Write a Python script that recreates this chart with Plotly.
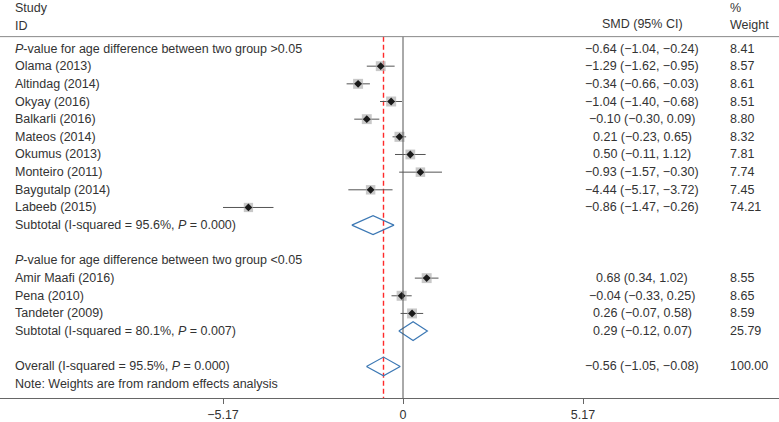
import plotly.graph_objects as go

# ---------------- data ----------------
group1_label = "<i>P</i>-value for age difference between two group >0.05"
group2_label = "<i>P</i>-value for age difference between two group <0.05"

g1_studies = ["Olama (2013)", "Altindag (2014)", "Okyay (2016)", "Balkarli (2016)", "Mateos (2014)",
              "Okumus (2013)", "Monteiro (2011)", "Baygutalp (2014)", "Labeeb (2015)"]
g1_est = [-0.64, -1.29, -0.34, -1.04, -0.10, 0.21, 0.50, -0.93, -4.44]
g1_lo = [-1.04, -1.62, -0.66, -1.40, -0.30, -0.23, -0.11, -1.57, -5.17]
g1_hi = [-0.24, -0.95, -0.03, -0.68, 0.09, 0.65, 1.12, -0.30, -3.72]
g1_w = [8.41, 8.57, 8.61, 8.51, 8.80, 8.32, 7.81, 7.74, 7.45]
g1_sub = (-0.86, -1.47, -0.26)
g1_sub_w = 74.21
g1_sub_label = "Subtotal (I-squared = 95.6%, <i>P</i> = 0.000)"

g2_studies = ["Amir Maafi (2016)", "Pena (2010)", "Tandeter (2009)"]
g2_est = [0.68, -0.04, 0.26]
g2_lo = [0.34, -0.33, -0.07]
g2_hi = [1.02, 0.25, 0.58]
g2_w = [8.55, 8.65, 8.59]
g2_sub = (0.29, -0.12, 0.70)          # diamond as drawn
g2_sub_text = "0.29 (−0.12, 0.07)"    # as printed
g2_sub_w = 25.79
g2_sub_label = "Subtotal (I-squared = 80.1%, <i>P</i> = 0.007)"

overall = (-0.56, -1.05, -0.08)
overall_w = 100.00
overall_label = "Overall (I-squared = 95.5%, <i>P</i> = 0.000)"
note_label = "Note: Weights are from random effects analysis"

tick_vals = [-5.17, 0, 5.17]
tick_text = ["−5.17", "0", "5.17"]


def fmt(v):
    return f"{v:.2f}".replace("-", "−")


def ci_text(e, l, h):
    return f"{fmt(e)} ({fmt(l)}, {fmt(h)})"


# ---------------- row layout ----------------
ROW0_PX, ROW_PX, PLOT_H = 49, 17.84, 402
r_top = -ROW0_PX / ROW_PX
r_bot = (PLOT_H - ROW0_PX) / ROW_PX

row_hdr1 = 0
rows_g1 = list(range(1, 1 + len(g1_studies)))
row_sub1 = rows_g1[-1] + 1
row_hdr2 = row_sub1 + 2
rows_g2 = list(range(row_hdr2 + 1, row_hdr2 + 1 + len(g2_studies)))
row_sub2 = rows_g2[-1] + 1
row_overall = row_sub2 + 2
row_note = row_overall + 1

est = g1_est + g2_est
lo = g1_lo + g2_lo
hi = g1_hi + g2_hi
w = g1_w + g2_w
rows = rows_g1 + rows_g2

TXT = "#333333"
FONT = "Liberation Sans, Arial, sans-serif"
FS = 12.5

HDR_LINE = -12 / ROW_PX  # header rule, ~37px from top

fig = go.Figure()

# overall-effect reference line (red dashed)
fig.add_trace(go.Scatter(x=[overall[0], overall[0]], y=[HDR_LINE, r_bot], mode="lines",
                         line=dict(color="#ff2a2a", width=1.4, dash="5px,3px"),
                         hoverinfo="skip", showlegend=False))

# CI lines
cx, cy = [], []
for e, l, h, r in zip(est, lo, hi, rows):
    cx += [l, h, None]
    cy += [r, r, None]
fig.add_trace(go.Scatter(x=cx, y=cy, mode="lines", line=dict(color="#555555", width=1),
                         hoverinfo="skip", showlegend=False))
# weight squares
fig.add_trace(go.Scatter(x=est, y=rows, mode="markers",
                         marker=dict(symbol="square", size=[3.4 * (v ** 0.5) for v in w],
                                     color="#b0b0b0", line=dict(width=0)),
                         showlegend=False))
# point diamonds
fig.add_trace(go.Scatter(x=est, y=rows, mode="markers",
                         marker=dict(symbol="diamond", size=6, color="#1a1a1a"),
                         showlegend=False))

# pooled diamonds
HH = 0.53
for (e, l, h), r in [(g1_sub, row_sub1), (g2_sub, row_sub2), (overall, row_overall)]:
    fig.add_trace(go.Scatter(x=[l, e, h, e, l], y=[r, r - HH, r, r + HH, r], mode="lines",
                             line=dict(color="#3c78b4", width=1.2), showlegend=False,
                             hoverinfo="skip"))

# reference lines
fig.add_shape(type="line", xref="x", yref="y", x0=0, x1=0, y0=HDR_LINE, y1=r_bot,
              line=dict(color="#555555", width=1))
fig.add_shape(type="line", xref="paper", yref="y", x0=0, x1=1, y0=HDR_LINE, y1=HDR_LINE,
              line=dict(color="#888888", width=1))

ann = []


def left(text, r):
    ann.append(dict(x=13 / 779, xref="paper", y=r, yref="y", text=text, showarrow=False,
                    xanchor="left", yanchor="middle", font=dict(size=FS, color=TXT, family=FONT)))


def mid(text, r):
    ann.append(dict(x=642 / 779, xref="paper", y=r, yref="y", text=text, showarrow=False,
                    xanchor="center", yanchor="middle", font=dict(size=FS, color=TXT, family=FONT)))


def wcol(text, r):
    ann.append(dict(x=728 / 779, xref="paper", y=r, yref="y", text=text, showarrow=False,
                    xanchor="left", yanchor="middle", font=dict(size=FS, color=TXT, family=FONT)))


# headers
left("Study", -41 / ROW_PX)
left("ID", -23 / ROW_PX)
mid("SMD (95% CI)", -25 / ROW_PX)
wcol("%", -41 / ROW_PX)
wcol("Weight", -24 / ROW_PX)

# labels
left(group1_label, row_hdr1)
for s, r in zip(g1_studies, rows_g1):
    left(s, r)
left(g1_sub_label, row_sub1)
left(group2_label, row_hdr2)
for s, r in zip(g2_studies, rows_g2):
    left(s, r)
left(g2_sub_label, row_sub2)
left(overall_label, row_overall)
left(note_label, row_note)

# group 1 text column (printed one row above as in the figure)
g1_txt = [ci_text(e, l, h) for e, l, h in zip(g1_est, g1_lo, g1_hi)] + [ci_text(*g1_sub)]
g1_wtxt = [f"{v:.2f}" for v in g1_w] + [f"{g1_sub_w:.2f}"]
for i, (t, wt) in enumerate(zip(g1_txt, g1_wtxt)):
    mid(t, row_hdr1 + i)
    wcol(wt, row_hdr1 + i)

for e, l, h, v, r in zip(g2_est, g2_lo, g2_hi, g2_w, rows_g2):
    mid(ci_text(e, l, h), r)
    wcol(f"{v:.2f}", r)
mid(g2_sub_text, row_sub2)
wcol(f"{g2_sub_w:.2f}", row_sub2)
mid(ci_text(*overall), row_overall)
wcol(f"{overall_w:.2f}", row_overall)

PX_PER_UNIT = 360 / (2 * 5.17)
x_min = -403 / PX_PER_UNIT
x_max = (779 - 403) / PX_PER_UNIT

fig.update_layout(
    width=779, height=422,
    margin=dict(l=0, r=0, t=0, b=20),
    paper_bgcolor="white", plot_bgcolor="white",
    annotations=ann,
    showlegend=False,
    xaxis=dict(range=[x_min, x_max], showgrid=False, zeroline=False, showline=True,
               linecolor="#666666", linewidth=1, ticks="outside", ticklen=5, tickcolor="#666666",
               tickvals=tick_vals, ticktext=tick_text,
               tickfont=dict(size=FS, color=TXT, family=FONT)),
    yaxis=dict(range=[r_bot, r_top], showgrid=False, zeroline=False, showline=False,
               showticklabels=False, ticks=""),
)

fig.write_html("out.html", config={"displayModeBar": False},
               post_script="document.body.style.margin='0';document.body.style.overflow='hidden';")
